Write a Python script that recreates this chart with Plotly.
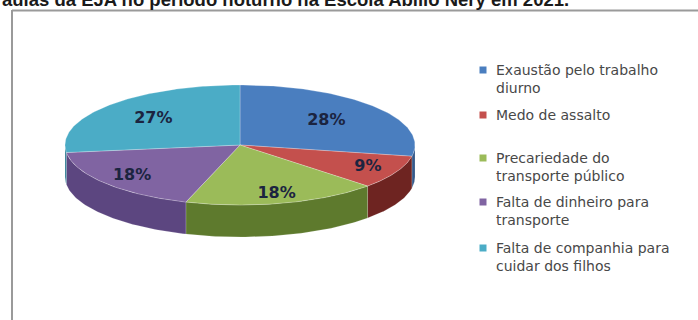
import numpy as np
import plotly.graph_objects as go

# Reasons for missing night classes (share of answers, %)
categories = [
    "Exaustão pelo trabalho diurno",
    "Medo de assalto",
    "Precariedade do transporte público",
    "Falta de dinheiro para transporte",
    "Falta de companhia para cuidar dos filhos",
]
legend_lines = [
    ["Exaustão pelo trabalho", "diurno"],
    ["Medo de assalto"],
    ["Precariedade do", "transporte público"],
    ["Falta de dinheiro para", "transporte"],
    ["Falta de companhia para", "cuidar dos filhos"],
]
values = [28, 9, 18, 18, 27]
title_text = "aulas da EJA no período noturno na Escola Abílio Nery em 2021."

# Styling
top_colors = ["#4a7ebf", "#c4504d", "#9bbb59", "#8064a2", "#4bacc6"]
side_colors = ["#34598a", "#6e2421", "#5e7a2d", "#5c4680", "#2f7f95"]
label_color = "#1b2440"
legend_text_color = "#484848"

W, H = 698, 320
CX, CY, RX, RY, DEPTH = 240, 145, 175, 60, 32
label_frac = [0.64, 0.82, 0.84, 0.8, 0.66]
legend_marker_x, legend_text_x = 483, 494
legend_rows = [70, 115, 158, 202, 248]
legend_line_h = 17.5


def ellipse_pt(a_deg, dy=0.0):
    a = np.radians(a_deg)
    return CX + RX * np.cos(a), CY - RY * np.sin(a) + dy


total = float(sum(values))
angles = []
acc = 0.0
for v in values:
    a1 = 90 - acc / total * 360
    a2 = a1 - v / total * 360
    angles.append((a1, a2))
    acc += v

fig = go.Figure()

# side walls (front half of the disc only)
for (a1, a2), col in zip(angles, side_colors):
    hi, lo = min(a1, 0.0), max(a2, -180.0)
    if hi <= lo:
        continue
    arc = np.linspace(hi, lo, 60)
    xs_top, ys_top = ellipse_pt(arc)
    xs_bot, ys_bot = ellipse_pt(arc[::-1], DEPTH)
    fig.add_trace(go.Scatter(
        x=np.concatenate([xs_top, xs_bot, xs_top[:1]]),
        y=np.concatenate([ys_top, ys_bot, ys_top[:1]]),
        fill="toself", fillcolor=col, mode="lines",
        line=dict(color="rgba(255,255,255,0.25)", width=0.6),
        hoverinfo="skip", showlegend=False,
    ))

# top faces
for (a1, a2), col, name, v in zip(angles, top_colors, categories, values):
    arc = np.linspace(a1, a2, 120)
    xs, ys = ellipse_pt(arc)
    fig.add_trace(go.Scatter(
        x=np.concatenate([[CX], xs, [CX]]),
        y=np.concatenate([[CY], ys, [CY]]),
        fill="toself", fillcolor=col, mode="lines",
        line=dict(color="rgba(255,255,255,0.35)", width=0.7),
        name=name, hovertemplate=f"{name}: {v}%<extra></extra>",
        showlegend=False,
    ))

# percentage labels
lx, ly = [], []
for (a1, a2), f in zip(angles, label_frac):
    mid = np.radians((a1 + a2) / 2)
    lx.append(CX + RX * f * np.cos(mid))
    ly.append(CY - RY * f * np.sin(mid))
fig.add_trace(go.Scatter(
    x=lx, y=ly, mode="text", text=[f"{v}%" for v in values],
    textfont=dict(family="DejaVu Sans", size=16, color=label_color, weight="bold"),
    hoverinfo="skip", showlegend=False,
))

# legend markers
fig.add_trace(go.Scatter(
    x=[legend_marker_x] * len(values), y=legend_rows, mode="markers",
    marker=dict(symbol="square", size=7, color=top_colors, line=dict(width=0)),
    hoverinfo="skip", showlegend=False,
))

annotations = []
for row, lines in zip(legend_rows, legend_lines):
    for i, line in enumerate(lines):
        annotations.append(dict(
            x=legend_text_x, y=row + i * legend_line_h, xref="x", yref="y",
            text=line, showarrow=False, xanchor="left", yanchor="middle",
            font=dict(family="DejaVu Sans", size=14, color=legend_text_color),
        ))

annotations.append(dict(
    x=0, y=12, xref="x", yref="y", text=f"<b>{title_text}</b>",
    showarrow=False, xanchor="left", yanchor="bottom",
    font=dict(family="Liberation Sans", size=18.5, color="#1a1a1a"),
))

shapes = [
    dict(type="line", x0=12, x1=W, y0=10.5, y1=10.5, xref="x", yref="y",
         line=dict(color="#9a9a9a", width=2)),
    dict(type="line", x0=12, x1=12, y0=10, y1=H, xref="x", yref="y",
         line=dict(color="#9a9a9a", width=2)),
]

fig.update_layout(
    width=W, height=H, margin=dict(l=0, r=0, t=0, b=0),
    paper_bgcolor="white", plot_bgcolor="white",
    xaxis=dict(range=[0, W], visible=False, fixedrange=True),
    yaxis=dict(range=[H, 0], visible=False, fixedrange=True),
    annotations=annotations, shapes=shapes,
)

fig.write_html("out.html")
